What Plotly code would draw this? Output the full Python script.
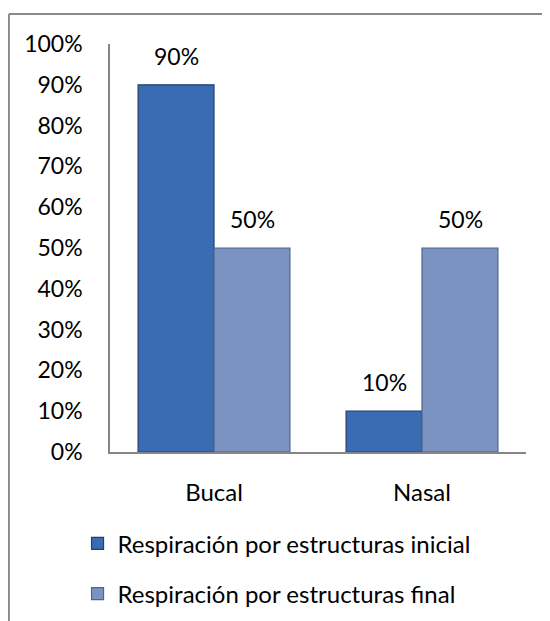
import plotly.graph_objects as go

categories = ["Bucal", "Nasal"]
series_names = ["Respiración por estructuras inicial", "Respiración por estructuras final"]
inicial = [0.90, 0.10]
final = [0.50, 0.50]
tick_vals = [0, 0.1, 0.2, 0.3, 0.4, 0.5, 0.6, 0.7, 0.8, 0.9, 1.0]
tick_text = ["0%", "10%", "20%", "30%", "40%", "50%", "60%", "70%", "80%", "90%", "100%"]

FONT = "Lato, Carlito, Calibri, sans-serif"
fills = ["#3a6cb3", "#7b93c1"]
edges = ["#223f6e", "#4f6591"]

fig = go.Figure()
for i, (name, vals) in enumerate(zip(series_names, [inicial, final])):
    fig.add_trace(go.Bar(
        x=categories, y=vals, name=name, legendgroup=name,
        marker=dict(color=fills[i], line=dict(color=edges[i], width=1.2)),
    ))
    # value labels sit a bit above the bar tops, like the Excel original
    for cat, v in zip(categories, vals):
        fig.add_annotation(
            x=cat, y=v, text=f"{v:.0%}", showarrow=False,
            xshift=-38 if i == 0 else 38, yshift=13, yanchor="bottom",
            font=dict(family=FONT, size=23, color="#000000"),
        )

fig.update_layout(
    width=550, height=621,
    margin=dict(l=102, r=32, t=36, b=177),
    paper_bgcolor="white", plot_bgcolor="white",
    barmode="group", bargap=0.27, bargroupgap=0,
    font=dict(family=FONT, size=24, color="#000000"),
    showlegend=True,
    legend=dict(
        orientation="v", x=-0.078, y=-0.17, xanchor="left", yanchor="top",
        font=dict(family=FONT, size=24), tracegroupgap=16,
    ),
    shapes=[
        dict(type="line", xref="paper", yref="paper", x0=-0.243, x1=1.2,
             y0=1.0735, y1=1.0735, line=dict(color="#8a8a8a", width=2)),
        dict(type="line", xref="paper", yref="paper", x0=-0.243, x1=-0.243,
             y0=1.0735, y1=-0.5, line=dict(color="#8a8a8a", width=2)),
    ],
)
fig.update_yaxes(
    range=[0, 1], tickvals=tick_vals, ticktext=tick_text,
    tickfont=dict(size=23),
    showgrid=False, zeroline=False, showline=True, linecolor="#868686", linewidth=1.5,
    ticks="", ticklabelstandoff=21,
)
fig.update_xaxes(
    showgrid=False, showline=True, linecolor="#868686", linewidth=2,
    ticks="", ticklabelstandoff=18,
)

fig.write_html("out.html")
